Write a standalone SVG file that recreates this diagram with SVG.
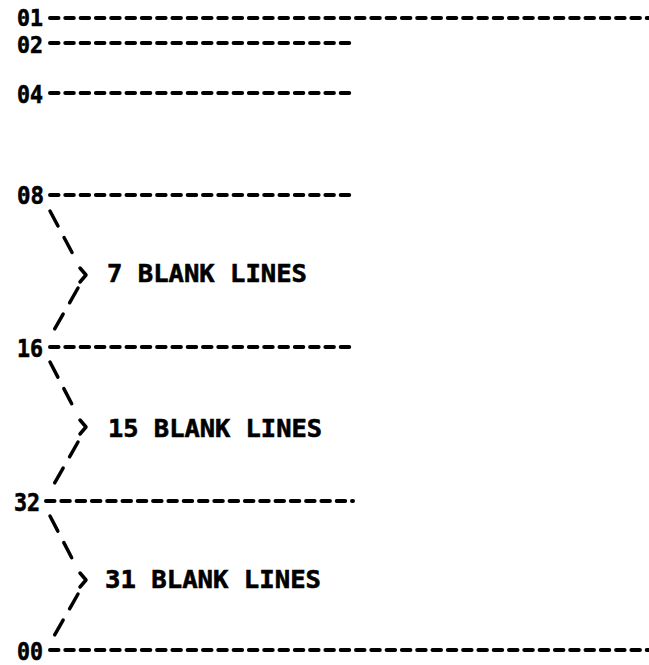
<svg xmlns="http://www.w3.org/2000/svg" width="649" height="665" viewBox="0 0 649 665">
<style>
.lbl{font-family:"DejaVu Sans Mono","Liberation Mono",monospace;font-weight:bold;font-size:24px;fill:#000;stroke:#000;stroke-width:0.6}
.txt{font-family:"DejaVu Sans Mono","Liberation Mono",monospace;font-weight:bold;font-size:25.5px;fill:#000;stroke:#000;stroke-width:0.6}
.rule{stroke:#000;stroke-width:4;stroke-linecap:round;stroke-dasharray:8.5 6.8;fill:none}
.brace{stroke:#000;stroke-width:3.5;stroke-linecap:round;stroke-dasharray:17 13;fill:none}
.tip{stroke:#000;stroke-width:3.5;stroke-linecap:round;stroke-linejoin:round;fill:none}
</style>
<rect width="649" height="665" fill="#fff"/>
<g id="row01"><text class="lbl" style="font-size:22.5px" x="17" y="26" textLength="26" lengthAdjust="spacingAndGlyphs">01</text><line class="rule" x1="50" y1="18" x2="649" y2="18"/></g>
<g id="row02"><text class="lbl" style="font-size:22.5px" x="17" y="53" textLength="26" lengthAdjust="spacingAndGlyphs">02</text><line class="rule" x1="50" y1="43" x2="353" y2="43"/></g>
<g id="row04"><text class="lbl" x="17" y="103" textLength="26" lengthAdjust="spacingAndGlyphs">04</text><line class="rule" x1="50" y1="93" x2="353" y2="93"/></g>
<g id="row08"><text class="lbl" x="17" y="204" textLength="27" lengthAdjust="spacingAndGlyphs">08</text><line class="rule" x1="50" y1="195" x2="353" y2="195"/></g>
<g id="row16"><text class="lbl" x="17" y="357" textLength="26" lengthAdjust="spacingAndGlyphs">16</text><line class="rule" x1="50" y1="347" x2="353" y2="347"/></g>
<g id="row32"><text class="lbl" x="14" y="511" textLength="26" lengthAdjust="spacingAndGlyphs">32</text><line class="rule" x1="46" y1="501" x2="353" y2="501"/></g>
<g id="row00"><text class="lbl" x="17" y="660" textLength="26" lengthAdjust="spacingAndGlyphs">00</text><line class="rule" x1="50" y1="650" x2="649" y2="650"/></g>
<g id="gap7"><text class="txt" x="107" y="282" textLength="200" lengthAdjust="spacingAndGlyphs">7 BLANK LINES</text></g>
<g id="gap15"><text class="txt" x="108" y="437" textLength="214" lengthAdjust="spacingAndGlyphs">15 BLANK LINES</text></g>
<g id="gap31"><text class="txt" x="105" y="588" textLength="216" lengthAdjust="spacingAndGlyphs">31 BLANK LINES</text></g>
<g id="connectors">
<path class="brace" d="M50 211 L76 260"/>
<path class="tip" d="M80 268 L86 275 L80 282"/>
<path class="brace" d="M78 288 L50 337"/>
<path class="brace" d="M50 362 L76 412"/>
<path class="tip" d="M80 420 L86 427 L80 434"/>
<path class="brace" d="M78 442 L50 491"/>
<path class="brace" d="M50 516 L76 566"/>
<path class="tip" d="M80 573 L86 580 L80 587"/>
<path class="brace" d="M78 594 L50 643"/>
</g>
</svg>
